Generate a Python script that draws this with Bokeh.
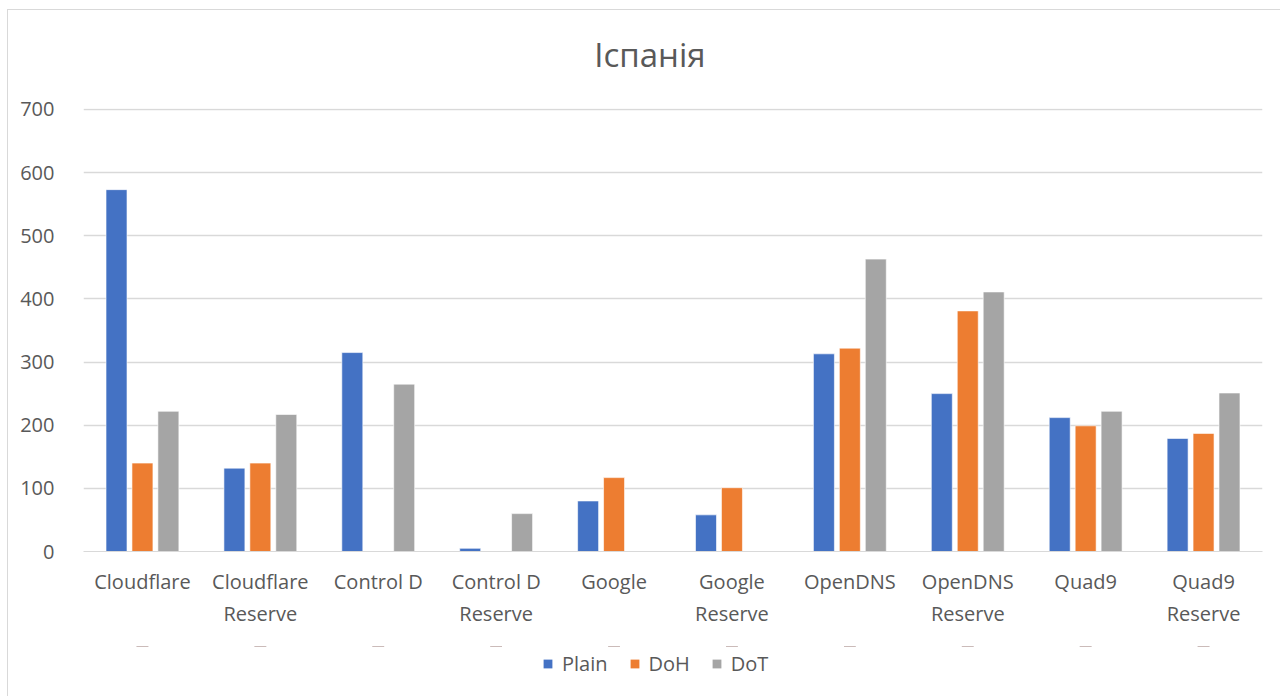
from bokeh.plotting import figure
from bokeh.models import ColumnDataSource, FixedTicker, Legend, LegendItem, Range1d
from bokeh.layouts import column
from bokeh.transform import dodge
from bokeh.core.properties import value
from bokeh.embed import file_html
from bokeh.resources import INLINE

title_text = "Іспанія"
categories = ["Cloudflare", "Cloudflare\nReserve", "Control D", "Control D\nReserve",
              "Google", "Google\nReserve", "OpenDNS", "OpenDNS\nReserve", "Quad9", "Quad9\nReserve"]
plain = [573, 132, 315, 5, 80, 58, 313, 250, 212, 179]
doh = [140, 140, 0, 0, 117, 101, 322, 381, 199, 187]
dot = [222, 217, 265, 60, 0, 0, 463, 411, 222, 251]
series_names = ["Plain", "DoH", "DoT"]
y_ticks = [0, 100, 200, 300, 400, 500, 600, 700]

colors = ["#4472C4", "#ED7D31", "#A5A5A5"]
FONT = "Open Sans"
TXT = "#595959"
W = 1272

source = ColumnDataSource(dict(cat=categories, Plain=plain, DoH=doh, DoT=dot))

# ---- title strip ----
tt = figure(width=W, height=84, output_backend="svg", toolbar_location=None,
            x_range=Range1d(0, W), y_range=Range1d(0, 84),
            x_axis_location=None, y_axis_location=None,
            min_border_left=0, min_border_right=0, min_border_top=0, min_border_bottom=0)
tt.outline_line_color = None
tt.grid.grid_line_color = None
tt.text(x=[611], y=[40], text=[title_text], text_font=value(FONT), text_font_size="33px",
        text_color=TXT, text_align="center", text_baseline="middle")

# ---- main chart ----
p = figure(x_range=categories, y_range=Range1d(0, 701.5), width=W, height=552,
           output_backend="svg", toolbar_location=None,
           min_border_left=75, min_border_right=18, min_border_top=14, min_border_bottom=95)
p.outline_line_color = None
p.background_fill_color = "white"
p.border_fill_color = "white"

offsets = [-0.22, 0.0, 0.22]
for name, col, off in zip(series_names, colors, offsets):
    p.vbar(x=dodge("cat", off, range=p.x_range), top=name, width=0.178, source=source,
           fill_color=col, line_color="white", line_width=0.6)

p.yaxis.ticker = FixedTicker(ticks=y_ticks)
p.yaxis.axis_line_color = None
p.yaxis.major_tick_line_color = None
p.yaxis.minor_tick_line_color = None
p.yaxis.major_label_text_font = FONT
p.yaxis.major_label_text_font_size = "20px"
p.yaxis.major_label_text_color = TXT
p.yaxis.major_label_standoff = 23

p.xaxis.axis_line_color = "#d9d9d9"
p.xaxis.major_tick_line_color = None
p.xaxis.minor_tick_line_color = None
p.xaxis.major_label_text_font = FONT
p.xaxis.major_label_text_font_size = "20px"
p.xaxis.major_label_text_color = TXT
p.xaxis.major_label_standoff = 10
p.xaxis.major_label_orientation = "horizontal"

p.xgrid.grid_line_color = None
p.ygrid.grid_line_color = "#d9d9d9"
p.ygrid.grid_line_width = 1.3

# ---- legend strip ----
lg = figure(width=W, height=50, output_backend="svg", toolbar_location=None,
            x_range=categories, y_range=Range1d(-2000, -1000),
            x_axis_location=None, y_axis_location=None,
            min_border_left=0, min_border_right=0, min_border_top=0, min_border_bottom=0)
lg.outline_line_color = None
lg.grid.grid_line_color = None
leg_renderers = [lg.vbar(x="cat", top=name, width=0.1, source=source, fill_color=c, line_color=None)
                 for name, c in zip(series_names, colors)]
legend = Legend(items=[LegendItem(label=n, renderers=[r]) for n, r in zip(series_names, leg_renderers)],
                orientation="horizontal", location=(459, 19),
                label_text_font=FONT, label_text_font_size="20px", label_text_color=TXT,
                glyph_width=11, glyph_height=11, label_standoff=9, spacing=21,
                border_line_color=None, background_fill_alpha=0, margin=0, padding=4)
lg.add_layout(legend)

layout = column(tt, p, lg, spacing=0)
layout.styles = {"margin-left": "7px", "margin-top": "9px",
                 "border-left": "1px solid #d9d9d9", "border-top": "1px solid #d9d9d9"}

open("out.html", "w").write(file_html(layout, INLINE))
